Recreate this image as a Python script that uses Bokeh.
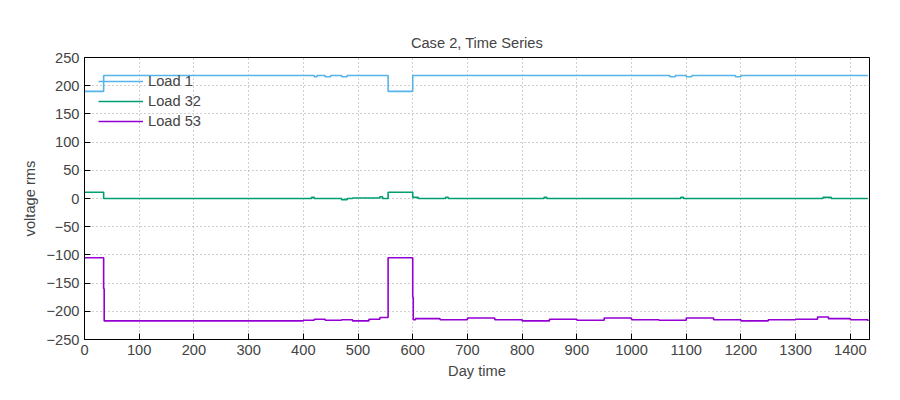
from bokeh.plotting import figure
from bokeh.models import Legend, LegendItem, FixedTicker
from bokeh.embed import file_html
from bokeh.resources import INLINE

# minutes of the day and rms voltage
load1_x = [0, 35, 420, 425, 440, 450, 470, 480, 555, 600, 1070, 1080, 1100, 1110, 1190, 1200, 1432]
load1_y = [190, 218, 216, 218, 216, 218, 216, 218, 190, 218, 216, 218, 216, 218, 216, 218, 218]

load32_x = [0, 35, 415, 420, 470, 480, 490, 540, 545, 555, 600, 610, 660, 665, 840, 845,
            1090, 1095, 1350, 1365, 1432]
load32_y = [11, 0, 2, 0, -2, 0, 1, 3, 0, 11, 2, 0, 2, 0, 2, 0, 2, 0, 2, 0, 0]

load53_x = [0, 35, 36, 400, 420, 440, 470, 490, 520, 540, 555, 600, 601, 605, 650, 700, 750,
            800, 850, 900, 950, 1000, 1050, 1100, 1150, 1200, 1250, 1300, 1340, 1360, 1400, 1432]
load53_y = [-105, -160, -217, -216, -214, -216, -215, -217, -214, -211, -105, -175, -215, -213,
            -215, -212, -215, -217, -214, -216, -212, -215, -216, -212, -215, -217, -215, -214,
            -210, -213, -215, -217]

x_ticks = list(range(0, 1401, 100))
y_ticks = list(range(-250, 251, 50))

p = figure(width=892, height=392, output_backend="svg", toolbar_location=None,
           x_range=(0, 1435), y_range=(-250, 250),
           min_border_left=84, min_border_right=23, min_border_top=57, min_border_bottom=53,
           title="Case 2, Time Series", x_axis_label="Day time", y_axis_label="voltage rms")

r1 = p.step(load1_x, load1_y, mode="after", line_color="#56b4e9", line_width=1.6)
r2 = p.step(load32_x, load32_y, mode="after", line_color="#009e73", line_width=1.6)
r3 = p.step(load53_x, load53_y, mode="after", line_color="#9400d3", line_width=1.6)

p.title.align = "center"
p.title.text_font = "Liberation Sans"
p.title.text_font_size = "11pt"
p.title.text_font_style = "normal"
p.title.standoff = 14

for ax in (p.xaxis, p.yaxis):
    ax.major_label_text_font = "Liberation Sans"
    ax.major_label_text_font_size = "11pt"
    ax.axis_label_text_font = "Liberation Sans"
    ax.axis_label_text_font_size = "11pt"
    ax.axis_label_text_font_style = "normal"
    ax.major_tick_in = 6
    ax.major_tick_out = 0
    ax.minor_tick_line_color = None
    ax.axis_line_color = "black"
p.xaxis.ticker = FixedTicker(ticks=x_ticks)
p.yaxis.ticker = FixedTicker(ticks=y_ticks)

p.xgrid.ticker = FixedTicker(ticks=x_ticks)
p.ygrid.ticker = FixedTicker(ticks=y_ticks)
for g in (p.xgrid, p.ygrid):
    g.grid_line_color = "#a0a0a0"
    g.grid_line_dash = "1 3"
p.outline_line_color = "black"

legend = Legend(items=[LegendItem(label="Load 1", renderers=[r1]),
                       LegendItem(label="Load 32", renderers=[r2]),
                       LegendItem(label="Load 53", renderers=[r3])],
                location="top_left", background_fill_alpha=0, border_line_color=None,
                label_text_font="Liberation Sans", label_text_font_size="11pt",
                glyph_width=45, spacing=-4, padding=2, margin=14)
p.add_layout(legend)

open("out.html", "w").write(file_html(p, INLINE))
